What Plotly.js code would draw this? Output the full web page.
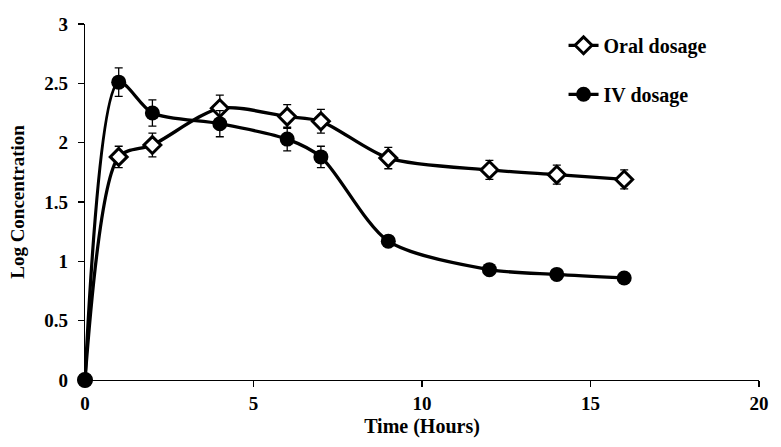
<!DOCTYPE html>
<html>
<head>
<meta charset="utf-8">
<script src="https://cdn.plot.ly/plotly-3.0.1.min.js"></script>
<style>html,body{margin:0;padding:0;background:#fff}#chart{width:781px;height:447px}</style>
</head>
<body>
<div id="chart"></div>
<script>
const timeHours = [0, 1, 2, 4, 6, 7, 9, 12, 14, 16];
const oralLog = [0, 1.88, 1.98, 2.29, 2.22, 2.18, 1.87, 1.77, 1.73, 1.69];
const oralErr = [0, 0.09, 0.10, 0.11, 0.10, 0.10, 0.09, 0.08, 0.08, 0.08];
const ivLog = [0, 2.51, 2.25, 2.16, 2.03, 1.88, 1.17, 0.93, 0.89, 0.86];
const ivErr = [0, 0.12, 0.11, 0.11, 0.10, 0.09, 0.04, 0.02, 0.02, 0.02];
const seriesNames = ['Oral dosage', 'IV dosage'];

const fam = "'Liberation Serif', serif";
const oralSymbols = timeHours.map(t => t === 0 ? 'circle' : 'diamond');
const lineStyle = {color: '#000', width: 3.3, shape: 'spline', smoothing: 0.8};
const diamondMarker = {symbol: 'diamond', size: 13, color: '#fff', line: {color: '#000', width: 3}};
const traces = [
  {
    x: timeHours, y: oralLog, name: seriesNames[0], legendgroup: 'a', showlegend: false, cliponaxis: false,
    mode: 'lines+markers', type: 'scatter',
    line: lineStyle,
    marker: Object.assign({}, diamondMarker, {symbol: oralSymbols}),
    error_y: {type: 'data', array: oralErr, visible: true, color: '#000', thickness: 1.3, width: 4}
  },
  {
    x: [null], y: [null], name: seriesNames[0], legendgroup: 'a', showlegend: true,
    mode: 'lines+markers', type: 'scatter',
    line: lineStyle, marker: diamondMarker
  },
  {
    x: timeHours, y: ivLog, name: seriesNames[1], legendgroup: 'b', cliponaxis: false,
    mode: 'lines+markers', type: 'scatter',
    line: lineStyle,
    marker: {symbol: 'circle', size: 15, color: '#000'},
    error_y: {type: 'data', array: ivErr, visible: true, color: '#000', thickness: 1.3, width: 4}
  }
];
const layout = {
  width: 781, height: 447,
  margin: {l: 84.5, r: 21.7, t: 23.7, b: 66.7},
  paper_bgcolor: '#fff', plot_bgcolor: '#fff',
  font: {family: fam, size: 19, color: '#000', weight: 'bold'},
  showlegend: true,
  legend: {x: 0.71, y: 0.995, xanchor: 'left', yanchor: 'top', tracegroupgap: 20, traceorder: 'grouped',
           font: {family: fam, size: 20, color: '#000', weight: 'bold'}, bgcolor: 'rgba(0,0,0,0)'},
  xaxis: {
    range: [0, 20], tickvals: [0, 5, 10, 15, 20], ticktext: ['0', '5', '10', '15', '20'],
    showgrid: false, zeroline: false, showline: true, linecolor: '#000', linewidth: 1.3,
    ticks: 'outside', ticklen: 6, tickcolor: '#000', tickwidth: 1.3,
    tickfont: {family: fam, size: 19, weight: 'bold'},
    title: {text: 'Time (Hours)', font: {family: fam, size: 20, weight: 'bold'}, standoff: 6}
  },
  yaxis: {
    range: [0, 3], tickvals: [0, 0.5, 1, 1.5, 2, 2.5, 3], ticktext: ['0', '0.5', '1', '1.5', '2', '2.5', '3'],
    showgrid: false, zeroline: false, showline: true, linecolor: '#000', linewidth: 1.3,
    ticks: 'outside', ticklen: 6, tickcolor: '#000', tickwidth: 1.3,
    tickfont: {family: fam, size: 19, weight: 'bold'}, ticklabelstandoff: 6,
    title: {text: 'Log Concentration', font: {family: fam, size: 19, weight: 'bold'}, standoff: 14}
  }
};
Plotly.newPlot('chart', traces, layout, {displayModeBar: false, staticPlot: true});
</script>
</body>
</html>
